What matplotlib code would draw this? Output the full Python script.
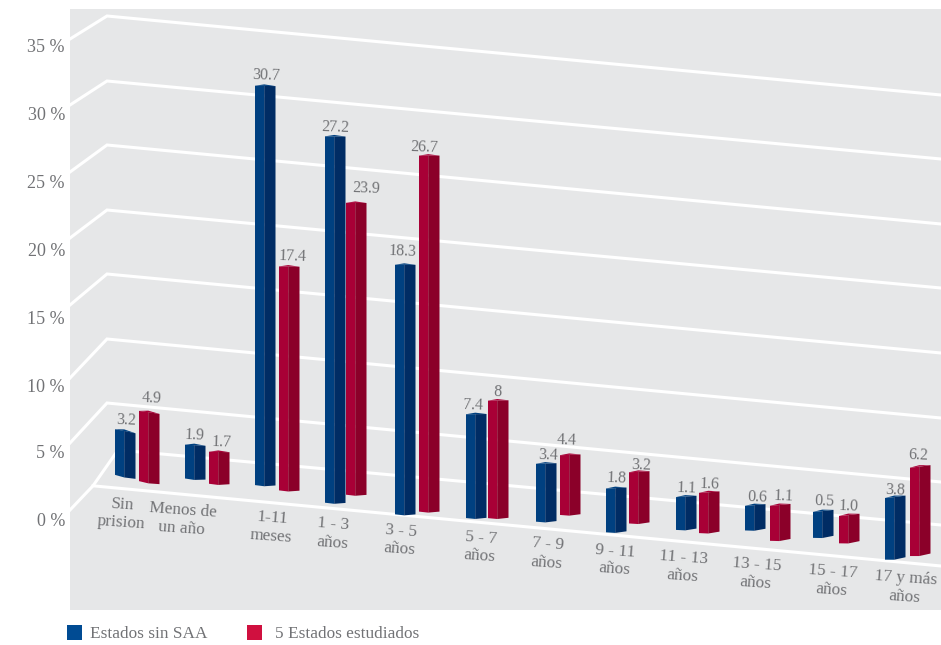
import matplotlib
matplotlib.use('Agg')
import matplotlib.pyplot as plt
from matplotlib.patches import Polygon, Rectangle
import numpy as np

plt.rcParams['font.family'] = ['Liberation Serif', 'DejaVu Serif']

categories = ['Sin\nprision', 'Menos de\nun año', '1-11\nmeses', '1 - 3\naños', '3 - 5\naños',
              '5 - 7\naños', '7 - 9\naños', '9 - 11\naños', '11 - 13\naños', '13 - 15\naños',
              '15 - 17\naños', '17 y más\naños']
sin_saa = [3.2, 1.9, 30.7, 27.2, 18.3, 7.4, 3.4, 1.8, 1.1, 0.6, 0.5, 3.8]
estudiados = [4.9, 1.7, 17.4, 23.9, 26.7, 8, 4.4, 3.2, 1.6, 1.1, 1.0, 6.2]
sin_saa_txt = ['3.2', '1.9', '30.7', '27.2', '18.3', '7.4', '3.4', '1.8', '1.1', '0.6', '0.5', '3.8']
estudiados_txt = ['4.9', '1.7', '17.4', '23.9', '26.7', '8', '4.4', '3.2', '1.6', '1.1', '1.0', '6.2']
levels = [0, 5, 10, 15, 20, 25, 30, 35]

# perspective of the fake 3d box, all in pixels of the 941x645 picture
wall_left = [449, 403, 339, 274, 210, 145, 81, 16]
wall_right = [525, 482, 418, 353, 288, 224, 159, 95]
wall_end = [510, 443, 378, 305, 238, 172, 105, 39]
tick_y = [522, 454, 387, 319, 251, 183, 116, 48]
KINK = 107
RIGHT = 941

# the original is hand drawn, so each bar needs its own small offsets
floor_blue = [14, 17, 17, 6, 1, 4, 7, 3, 12, 18, 17, 2]
floor_red = [10, 14, 14, 16, 6, 6, 16, 14, 11, 10, 14, 8]
shift_blue = [8, 5, -1, -2, 5, 7, 5, 9, 5, 3, 2, 10]
shift_red = [3, 8, 6, 20, 2, -1, 3, 3, 3, 5, 8, 3]
nudge_blue = [0, 0, 0, 0, 0, 1, 1, 1, 1, 0, -2, 0]
nudge_red = [24, 24, 24, 21, 24, 23, 25, 24, 24, 25, 24, 25]
value_x_blue = [126, 195, 266, 335, 403, 473, 548, 617, 687, 757, 824, 895]
value_x_red = [152, 222, 293, 366, 424, 498, 567, 641, 710, 784, 849, 918]
value_dy_blue = [9, 9, 10, 9, 13, 9, 8, 10, 9, 8, 11, 8]
value_dy_red = [13, 9, 10, 14, 8, 9, 15, 7, 9, 9, 10, 12]
label_x = [122, 182, 272, 333, 400, 480, 547, 615, 683, 756, 832, 905]
TXT = '#717275'


def wall_y(x, value):
    left = np.interp(value, levels, wall_left)
    right = np.interp(value, levels, wall_right)
    return left + (right - left) * (x - KINK) / (RIGHT - KINK)


def front_y(x):
    return 486 + (566 - 486) * (x - 95) / (RIGHT - 95)


def draw_bar(ax, x, width, value, depth, light, dark, shift=0):
    mid = x + width * 0.45
    right = x + width
    # tops fall to the right on the first bars and rise on the last ones
    lean = np.interp(x, [115, 200, 420, 900], [4, 0.5, 0, -2.5])
    top = wall_y(x + width / 2, value) + shift
    bottom = front_y(x + width / 2) - depth
    top_mid = top + lean * 0.4
    bot_mid = bottom + lean * 0.4 + 1
    left_face = [(x, top), (mid, top_mid), (mid, bot_mid), (x, bottom)]
    right_face = [(mid, top_mid), (right, top + lean), (right, bottom + lean), (mid, bot_mid)]
    cap = [(x, top), (mid, top_mid - 1.5), (right, top + lean)]
    ax.add_patch(Polygon(left_face, closed=True, fc=light, ec='none', zorder=3))
    ax.add_patch(Polygon(right_face, closed=True, fc=dark, ec='none', zorder=3))
    ax.add_patch(Polygon(cap, closed=True, fc=light, ec='none', zorder=3))
    return top


fig = plt.figure(figsize=(9.41, 6.45), dpi=100)
ax = fig.add_axes([0, 0, 1, 1])
ax.set_xlim(0, 941)
ax.set_ylim(645, 0)
ax.axis('off')

ax.add_patch(Rectangle((70, 9), 871, 601, fc='#e6e7e8', ec='none', zorder=0))

# wall lines
for i in range(1, len(levels)):
    ax.plot([70, KINK, RIGHT], [wall_end[i], wall_left[i], wall_right[i]], color='white', lw=2.2, zorder=1,
            solid_joinstyle='miter')
# floor: diagonal, back line and front edge
ax.plot([70, 93, 118, RIGHT], [wall_end[0], front_y(93), wall_y(118, 0), wall_right[0]], color='white', lw=2.2, zorder=1)
ax.plot([93, RIGHT], [front_y(93), front_y(RIGHT)], color='white', lw=2.2, zorder=1)

for lev, y in zip(levels, tick_y):
    ax.text(65, y, '%d %%' % lev, ha='right', va='center', fontsize=13, color=TXT)

for i, cat in enumerate(categories):
    slot = 115 + 70 * i
    top = draw_bar(ax, slot + nudge_blue[i], 20.5, sin_saa[i], floor_blue[i], '#004080', '#002c64', shift_blue[i])
    ax.text(value_x_blue[i], top - value_dy_blue[i], sin_saa_txt[i], ha='center', va='center', fontsize=11.5,
            color=TXT, zorder=4, rotation=-2)
    top = draw_bar(ax, slot + nudge_red[i], 20.5, estudiados[i], floor_red[i], '#a80036', '#8b0029', shift_red[i])
    ax.text(value_x_red[i], top - value_dy_red[i], estudiados_txt[i], ha='center', va='center', fontsize=11.5,
            color=TXT, zorder=4, rotation=-2)
    ax.text(label_x[i], front_y(label_x[i]) + 25, cat, ha='center', va='center', rotation=-4, rotation_mode='anchor',
            fontsize=12.4, color=TXT, linespacing=1.2, zorder=4)

# legend
ax.add_patch(Rectangle((67, 625), 15, 15, fc='#004b93', ec='none'))
ax.text(90, 634, 'Estados sin SAA', ha='left', va='center', fontsize=12.4, color=TXT)
ax.add_patch(Rectangle((247, 625), 15, 15, fc='#d0103f', ec='none'))
ax.text(275, 634, '5 Estados estudiados', ha='left', va='center', fontsize=12.4, color=TXT)

fig.savefig('out.png', dpi=100)
